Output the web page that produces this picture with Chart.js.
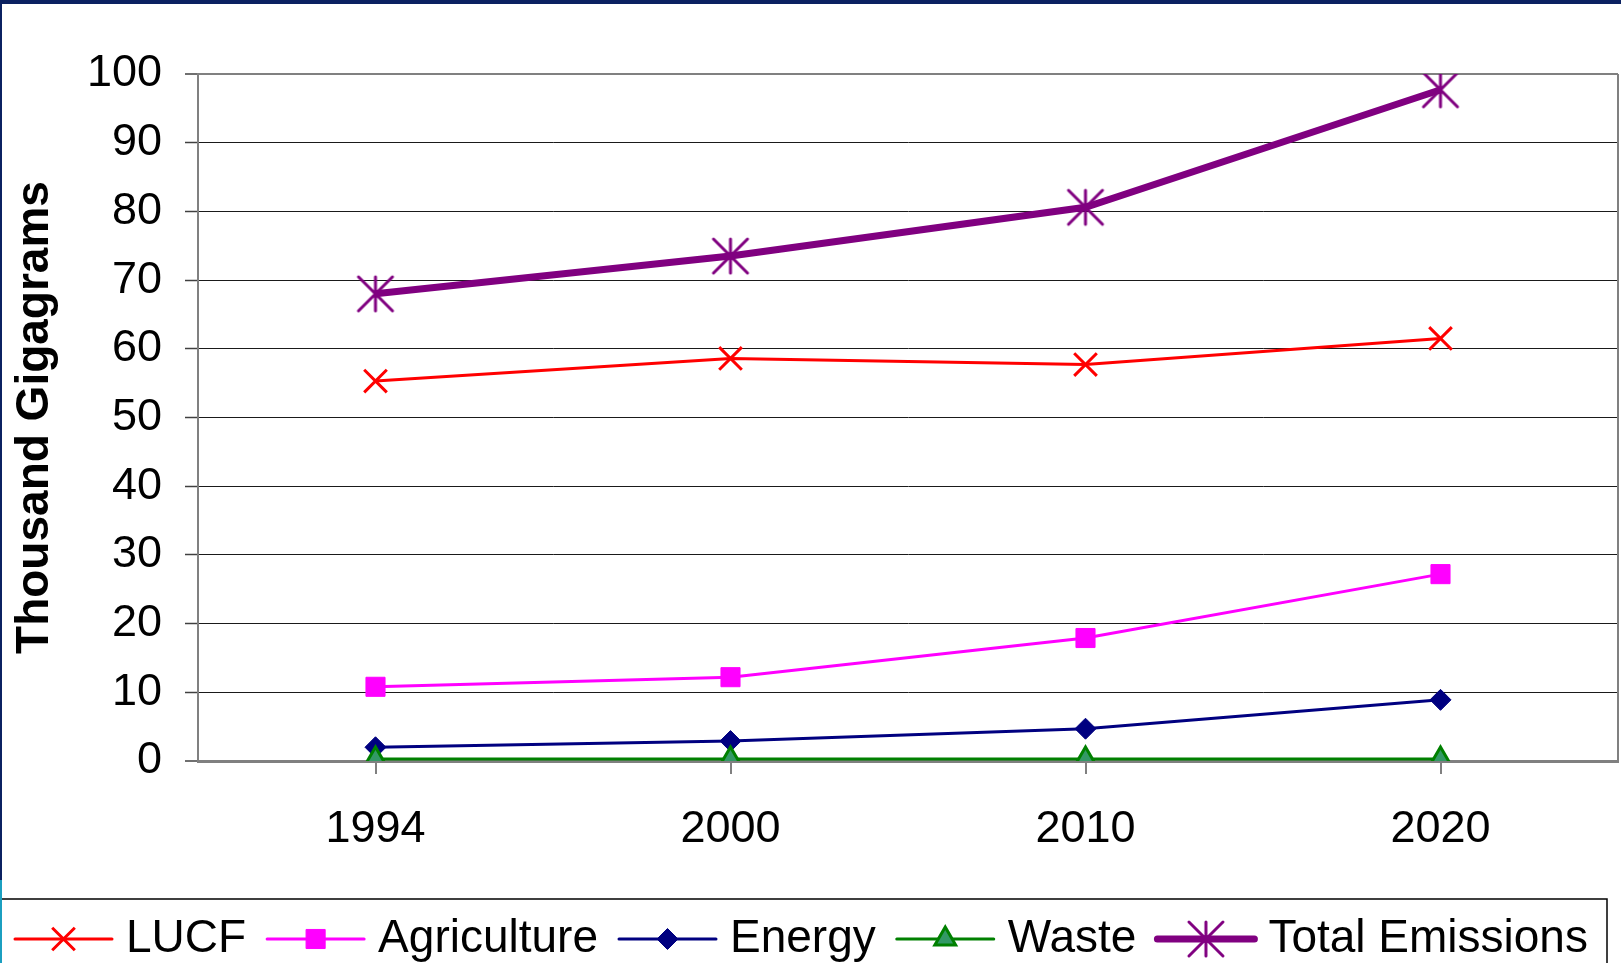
<!DOCTYPE html>
<html>
<head>
<meta charset="utf-8">
<title>Emissions</title>
<script src="https://cdn.jsdelivr.net/npm/chart.js@4.4.1/dist/chart.umd.min.js"></script>
<style>
    html, body { margin: 0; padding: 0; background: #fff; }
    #wrap { position: relative; width: 1621px; height: 963px; overflow: hidden; }
    canvas { display: block; }
    .frame { position: absolute; }
    .frame-top { left: 0; top: 0; width: 1621px; height: 4px; background: #0b2161; }
    .frame-left { left: 0; top: 0; width: 2px; height: 880px; background: #0b2161; }
    .frame-left-low { left: 0; top: 880px; width: 2px; height: 83px; background: #1b9fc0; }
</style>
</head>
<body>
<div id="wrap">
    <canvas id="chart" width="1621" height="963"></canvas>
    <div class="frame frame-top"></div>
    <div class="frame frame-left"></div>
    <div class="frame frame-left-low"></div>
</div>
<script>
const years = ['1994', '2000', '2010', '2020'];
const lucf = [55.3, 58.6, 57.7, 61.5];
const agriculture = [10.8, 12.2, 17.9, 27.2];
const energy = [2.0, 2.9, 4.7, 8.9];
const waste = [0.3, 0.3, 0.3, 0.3];
const totalEmissions = [68.0, 73.5, 80.6, 97.7];
const yTickValues = [0, 10, 20, 30, 40, 50, 60, 70, 80, 90, 100];

const FONT = "'Liberation Sans', Arial, sans-serif";
Chart.defaults.font.family = FONT;
Chart.defaults.color = '#000';

// marqueur étoile façon Excel : verticale + deux diagonales
function asteriskMarker(color, half, width) {
    const size = Math.ceil(half * 2 + width * 2);
    const c = document.createElement('canvas');
    c.width = size;
    c.height = size;
    const g = c.getContext('2d');
    const m = size / 2;
    g.strokeStyle = color;
    g.lineWidth = width;
    g.lineCap = 'round';
    g.beginPath();
    g.moveTo(m, m - half); g.lineTo(m, m + half);
    g.moveTo(m - half, m - half); g.lineTo(m + half, m + half);
    g.moveTo(m + half, m - half); g.lineTo(m - half, m + half);
    g.stroke();
    return c;
}

const plotFrame = {
    id: 'plotFrame',
    beforeDatasetsDraw(chart) {
        const { ctx, chartArea } = chart;
        ctx.save();
        ctx.strokeStyle = '#808080';
        ctx.lineWidth = 2;
        ctx.beginPath();
        ctx.moveTo(chartArea.right, chartArea.top);
        ctx.lineTo(chartArea.right, chartArea.bottom);
        ctx.stroke();
        ctx.restore();
    }
};

const legendBox = {
    id: 'legendBox',
    afterDraw(chart) {
        const { ctx } = chart;
        const y = 939;
        const lineLen = 97;
        let x = 15;
        ctx.save();
        ctx.strokeStyle = '#000';
        ctx.lineWidth = 1.5;
        ctx.strokeRect(1, 899, 1606, 80);
        ctx.font = `46px ${FONT}`;
        ctx.textBaseline = 'middle';
        ctx.textAlign = 'left';
        chart.data.datasets.forEach(ds => {
            ctx.strokeStyle = ds.borderColor;
            ctx.lineWidth = ds.borderWidth;
            ctx.lineCap = 'round';
            ctx.beginPath();
            ctx.moveTo(x, y);
            ctx.lineTo(x + lineLen, y);
            ctx.stroke();

            ctx.lineCap = 'butt';
            ctx.fillStyle = ds.pointBackgroundColor;
            ctx.strokeStyle = ds.pointBorderColor;
            ctx.lineWidth = ds.pointBorderWidth;
            Chart.helpers.drawPoint(ctx, {
                pointStyle: ds.pointStyle,
                radius: ds.pointRadius,
                borderWidth: ds.pointBorderWidth,
                rotation: 0
            }, x + lineLen / 2, y);

            x += lineLen + 14;
            ctx.fillStyle = '#000';
            ctx.fillText(ds.label, x, y);
            x += ctx.measureText(ds.label).width + 21;
        });
        ctx.restore();
    }
};

const isFrameTick = v => v === yTickValues[0] || v === yTickValues[yTickValues.length - 1];

new Chart(document.getElementById('chart').getContext('2d'), {
    type: 'line',
    data: {
        labels: years,
        datasets: [
            {
                label: 'LUCF',
                data: lucf,
                borderColor: '#ff0000',
                borderWidth: 3,
                pointStyle: 'crossRot',
                pointRadius: 16,
                pointBorderWidth: 3,
                pointBorderColor: '#ff0000',
                pointBackgroundColor: '#ff0000',
                order: 5
            },
            {
                label: 'Agriculture',
                data: agriculture,
                borderColor: '#ff00ff',
                borderWidth: 3,
                pointStyle: 'rect',
                pointRadius: 13.5,
                pointBorderWidth: 1,
                pointBorderColor: '#ff00ff',
                pointBackgroundColor: '#ff00ff',
                order: 4
            },
            {
                label: 'Energy',
                data: energy,
                borderColor: '#000080',
                borderWidth: 3,
                pointStyle: 'rectRot',
                pointRadius: 10.5,
                pointBorderWidth: 1,
                pointBorderColor: '#000080',
                pointBackgroundColor: '#000080',
                order: 3
            },
            {
                label: 'Waste',
                data: waste,
                borderColor: '#008000',
                borderWidth: 3,
                pointStyle: 'triangle',
                pointRadius: 12,
                pointBorderWidth: 3,
                pointBorderColor: '#008000',
                pointBackgroundColor: '#339966',
                order: 2
            },
            {
                label: 'Total Emissions',
                data: totalEmissions,
                borderColor: '#800080',
                borderWidth: 7,
                pointStyle: asteriskMarker('#800080', 17, 3),
                pointRadius: 17,
                pointBorderWidth: 0,
                pointBorderColor: '#800080',
                pointBackgroundColor: '#800080',
                order: 1
            }
        ]
    },
    options: {
        responsive: false,
        animation: false,
        events: [],
        tension: 0,
        layout: { autoPadding: false, padding: { left: 0, top: 74, right: 3, bottom: 82 } },
        plugins: {
            legend: { display: false },
            tooltip: { enabled: false }
        },
        scales: {
            x: {
                offset: true,
                grid: {
                    drawOnChartArea: false,
                    drawTicks: true,
                    tickLength: 13,
                    color: '#808080',
                    lineWidth: 2
                },
                border: { color: '#808080', width: 3 },
                ticks: { font: { size: 45 }, padding: 29, maxRotation: 0, color: '#000' },
                afterFit: s => { s.height = 120; }
            },
            y: {
                min: yTickValues[0],
                max: yTickValues[yTickValues.length - 1],
                afterBuildTicks: s => { s.ticks = yTickValues.map(v => ({ value: v })); },
                grid: {
                    color: c => (c.tick && isFrameTick(c.tick.value)) ? '#808080' : '#1a1a1a',
                    lineWidth: c => (c.tick && isFrameTick(c.tick.value)) ? 2 : 1,
                    tickLength: 13,
                    tickColor: '#404040',
                    tickWidth: 1.5
                },
                border: { color: '#808080', width: 2 },
                ticks: { font: { size: 45 }, padding: 23, color: '#000' },
                title: {
                    display: true,
                    text: 'Thousand Gigagrams',
                    font: { size: 46, weight: 'bold' },
                    color: '#000',
                    padding: { top: 8, bottom: 0 }
                },
                afterFit: s => { s.width = 198; }
            }
        }
    },
    plugins: [plotFrame, legendBox]
});
</script>
</body>
</html>
